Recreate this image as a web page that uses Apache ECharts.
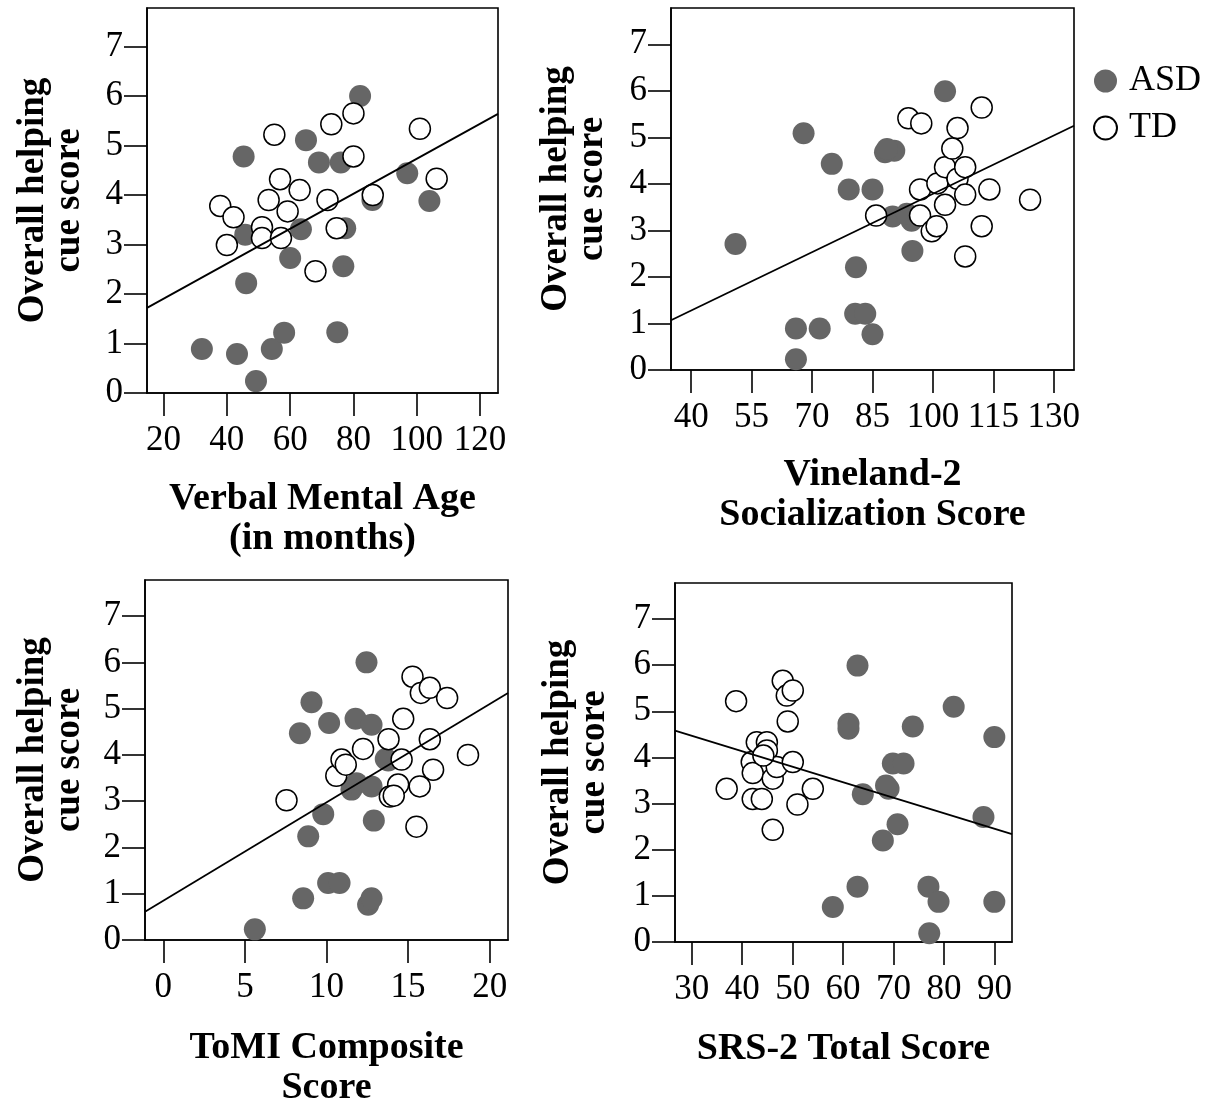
<!DOCTYPE html>
<html><head><meta charset="utf-8">
<script src="https://cdn.jsdelivr.net/npm/echarts@6/dist/echarts.min.js"></script>
<style>html,body{margin:0;padding:0;background:#fff}#c{width:1207px;height:1099px}</style>
</head><body><div id="c"></div>
<script>
// ---- tick labels ----
const yTicks = [0, 1, 2, 3, 4, 5, 6, 7];
const p1Ticks = [20, 40, 60, 80, 100, 120];
const p2Ticks = [40, 55, 70, 85, 100, 115, 130];
const p3Ticks = [0, 5, 10, 15, 20];
const p4Ticks = [30, 40, 50, 60, 70, 80, 90];

// ---- axis titles ----
const yTitle = 'Overall helping\ncue score';
const xTitles = ['Verbal Mental Age\n(in months)', 'Vineland-2\nSocialization Score', 'ToMI Composite\nScore', 'SRS-2 Total Score'];

// ---- Panel 1: Verbal Mental Age ----
const p1AsdX = [32.1, 43.2, 49.2, 54.2, 58.1, 74.9, 46.1, 60.0, 76.8, 45.8, 63.4, 77.4, 86.0, 104.0, 97.0, 45.3, 69.1, 76.0, 65.0, 82.1];
const p1AsdY = [0.89, 0.79, 0.24, 0.89, 1.22, 1.23, 2.22, 2.73, 2.56, 3.20, 3.31, 3.33, 3.90, 3.88, 4.44, 4.78, 4.66, 4.66, 5.11, 6.00];
const p1TdX = [37.9, 42.1, 40.0, 51.1, 51.1, 53.2, 56.8, 59.2, 63.0, 57.1, 55.0, 71.8, 68.0, 73.0, 80.0, 80.0, 74.7, 86.1, 101.0, 106.3];
const p1TdY = [3.78, 3.55, 2.99, 3.35, 3.13, 3.90, 4.32, 3.67, 4.10, 3.13, 5.22, 3.90, 2.46, 5.43, 5.65, 4.78, 3.33, 4.00, 5.34, 4.33];
const p1FitX = [14.76, 125.68];
const p1FitY = [1.72, 5.64];

// ---- Panel 2: Vineland-2 Socialization ----
const p2AsdX = [51.0, 67.9, 66.0, 71.9, 66.0, 74.9, 79.1, 85.0, 80.9, 80.7, 83.2, 85.0, 88.1, 90.4, 88.6, 90.0, 94.7, 93.5, 94.9, 103.0];
const p2AsdY = [2.71, 5.09, 0.89, 0.89, 0.23, 4.43, 3.88, 3.88, 2.21, 1.21, 1.21, 0.77, 4.68, 4.71, 4.75, 3.30, 3.21, 3.36, 2.56, 5.99];
const p2TdX = [85.9, 93.9, 97.1, 96.8, 96.8, 99.7, 100.9, 101.1, 103.0, 103.0, 104.8, 106.1, 106.1, 108.0, 108.0, 108.0, 112.1, 112.1, 114.0, 124.1];
const p2TdY = [3.32, 5.41, 5.30, 3.88, 3.32, 2.98, 3.09, 4.01, 4.36, 3.55, 4.76, 5.20, 4.11, 4.36, 3.77, 2.44, 5.64, 3.09, 3.88, 3.66];
const p2FitX = [35.0, 135.0];
const p2FitY = [1.07, 5.25];

// ---- Panel 3: ToMI Composite ----
const p3AsdX = [5.61, 8.57, 10.1, 10.8, 12.55, 12.76, 8.88, 9.8, 12.9, 11.53, 11.84, 12.76, 13.63, 13.78, 8.37, 9.08, 10.16, 11.78, 12.76, 12.45];
const p3AsdY = [0.23, 0.90, 1.23, 1.23, 0.76, 0.90, 2.24, 2.72, 2.58, 3.25, 3.39, 3.32, 3.91, 3.88, 4.47, 5.14, 4.69, 4.78, 4.65, 6.00];
const p3TdX = [7.55, 10.6, 10.92, 11.18, 12.24, 13.8, 14.6, 14.7, 14.39, 13.88, 14.12, 15.71, 15.51, 15.27, 15.78, 16.33, 16.33, 16.53, 17.39, 18.67];
const p3TdY = [3.02, 3.55, 3.90, 3.79, 4.13, 4.34, 3.90, 4.78, 3.36, 3.10, 3.12, 3.32, 2.45, 5.69, 5.34, 5.45, 4.34, 3.68, 5.23, 4.00];
const p3FitX = [-1.12, 21.12];
const p3FitY = [0.61, 5.34];

// ---- Panel 4: SRS-2 Total ----
const p4AsdX = [57.96, 62.85, 62.85, 61.06, 61.06, 63.9, 67.87, 69.0, 68.5, 69.85, 71.97, 70.78, 73.8, 76.9, 78.9, 77.06, 81.9, 87.8, 89.95, 89.95];
const p4AsdY = [0.76, 1.20, 5.99, 4.73, 4.62, 3.20, 2.20, 3.32, 3.39, 3.87, 3.87, 2.55, 4.67, 1.20, 0.87, 0.19, 5.10, 2.71, 4.44, 0.87];
const p4TdX = [36.94, 38.8, 41.9, 42.1, 42.1, 42.9, 43.9, 44.9, 44.9, 46.06, 46.06, 46.85, 48.04, 48.84, 50.03, 49.03, 50.03, 50.95, 54.0, 44.2];
const p4TdY = [3.32, 5.22, 3.90, 3.66, 3.10, 4.33, 3.10, 4.33, 4.15, 3.54, 2.43, 3.79, 5.66, 5.34, 5.45, 4.78, 3.90, 2.98, 3.32, 4.04];
const p4FitX = [26.7, 93.45];
const p4FitY = [4.58, 2.34];

const zip = (xs, ys) => xs.map((x, i) => [x, ys[i]]);
const FONT = 'Liberation Serif';

const grids = [
  {left: 147, top: 8, width: 351, height: 385},
  {left: 671, top: 8, width: 403, height: 362},
  {left: 145, top: 580, width: 363, height: 360},
  {left: 675, top: 583, width: 337, height: 359}
];
const xRanges = [[14.76, 125.68], [35.0, 135.0], [-1.12, 21.12], [26.7, 93.45]];
const xTickSets = [p1Ticks, p2Ticks, p3Ticks, p4Ticks];
const xGaps = [86.5, 85.5, 88, 87.5];
const yGaps = [59.5, 60.5, 58, 63];
const panels = [
  [p1AsdX, p1AsdY, p1TdX, p1TdY, p1FitX, p1FitY],
  [p2AsdX, p2AsdY, p2TdX, p2TdY, p2FitX, p2FitY],
  [p3AsdX, p3AsdY, p3TdX, p3TdY, p3FitX, p3FitY],
  [p4AsdX, p4AsdY, p4TdX, p4TdY, p4FitX, p4FitY]
];

const lineStyle = {color: '#000', width: 1.6};
const option = {
  backgroundColor: '#fff',
  animation: false,
  textStyle: {fontFamily: FONT},
  grid: grids.map(g => Object.assign({show: true, borderColor: '#000', borderWidth: 1.6, backgroundColor: 'transparent', containLabel: false, outerBoundsMode: 'none'}, g)),
  legend: {
    data: ['ASD', 'TD'],
    orient: 'vertical',
    left: 1088, top: 58,
    itemWidth: 23, itemHeight: 23, itemGap: 11,
    textStyle: {fontFamily: FONT, fontSize: 36, color: '#000', lineHeight: 36, padding: [0, 0, 0, 7]}
  },
  xAxis: grids.map((g, i) => ({
    type: 'value', gridIndex: i,
    min: xRanges[i][0], max: xRanges[i][1],
    name: xTitles[i], nameLocation: 'middle', nameGap: xGaps[i],
    nameTextStyle: {fontFamily: FONT, fontSize: 38, fontWeight: 'bold', color: '#000', lineHeight: 40},
    axisLine: {show: true, onZero: false, lineStyle: lineStyle},
    axisTick: {show: true, inside: false, length: 23, lineStyle: lineStyle, customValues: xTickSets[i]},
    axisLabel: {show: true, margin: 30, fontFamily: FONT, fontSize: 35, color: '#000', customValues: xTickSets[i]},
    splitLine: {show: false}
  })),
  yAxis: grids.map((g, i) => ({
    type: 'value', gridIndex: i,
    min: 0, max: 7.78,
    name: yTitle, nameLocation: 'middle', nameGap: yGaps[i],
    nameTextStyle: {fontFamily: FONT, fontSize: 37, fontWeight: 'bold', color: '#000', lineHeight: 36},
    axisLine: {show: true, onZero: false, lineStyle: lineStyle},
    axisTick: {show: true, inside: false, length: 23, lineStyle: lineStyle, customValues: yTicks},
    axisLabel: {show: true, margin: 24, fontFamily: FONT, fontSize: 35, color: '#000', customValues: yTicks},
    splitLine: {show: false}
  })),
  series: []
};

panels.forEach((p, i) => {
  option.series.push({
    name: 'ASD', type: 'scatter', xAxisIndex: i, yAxisIndex: i,
    symbol: 'circle', symbolSize: 22, z: 2,
    itemStyle: {color: '#666666', opacity: 1},
    data: zip(p[0], p[1])
  });
  option.series.push({
    name: 'TD', type: 'scatter', xAxisIndex: i, yAxisIndex: i,
    symbol: 'circle', symbolSize: 21, z: 3,
    itemStyle: {color: '#ffffff', borderColor: '#000', borderWidth: 1.5, opacity: 1},
    data: zip(p[2], p[3])
  });
  option.series.push({
    name: 'fit' + (i + 1), type: 'line', xAxisIndex: i, yAxisIndex: i,
    showSymbol: false, symbol: 'none', z: 4,
    lineStyle: {color: '#000', width: 1.8},
    data: zip(p[4], p[5])
  });
});

const chart = echarts.init(document.getElementById('c'), null, {renderer: 'canvas'});
chart.setOption(option);
</script>
</body></html>
